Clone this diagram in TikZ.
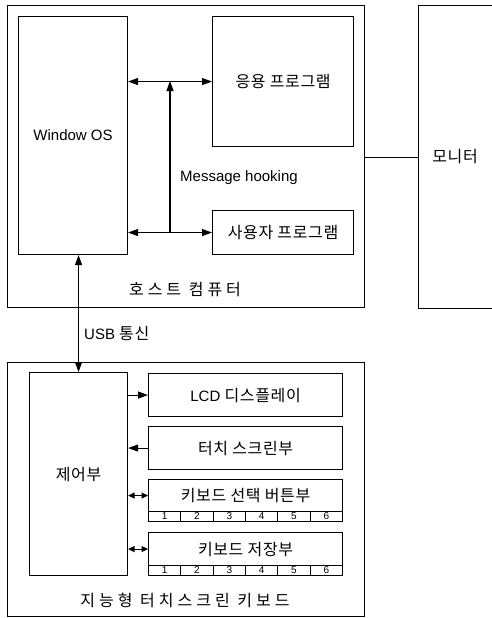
\documentclass[tikz,border=0pt]{standalone}
\usepackage{fontspec}
\setmainfont{Liberation Sans}
\newfontfamily\kr[LetterSpace=4]{Noto Sans CJK KR}
\newfontfamily\krw[LetterSpace=25]{Noto Sans CJK KR}
\usetikzlibrary{arrows.meta}
\tikzset{
  box/.style={draw, line width=1.1pt, inner sep=0pt, anchor=north west},
  cell/.style={draw, line width=0.9pt, inner sep=0pt, anchor=north west, minimum width=32.33pt, minimum height=10pt, font=\fontsize{10}{10}\selectfont},
  arr/.style={line width=1.1pt, -{Triangle[length=10pt,width=7pt]}},
  darr/.style={line width=1.1pt, {Triangle[length=10pt,width=7pt]}-{Triangle[length=10pt,width=7pt]}},
  sdarr/.style={line width=1.1pt, {Triangle[length=6.5pt,width=6pt]}-{Triangle[length=6.5pt,width=6pt]}},
  lbl/.style={font=\fontsize{15}{17}\selectfont, inner sep=0pt},
  kl/.style={font=\fontsize{16}{18}\selectfont\kr, inner sep=0pt},
  big/.style={font=\fontsize{16}{18}\selectfont, inner sep=0pt},
}
\begin{document}
\begin{tikzpicture}[x=1pt,y=-1pt]
\useasboundingbox (0,0) rectangle (492,618);
% host
\node[box, minimum width=357pt, minimum height=302pt] (host) at (7,5) {};
\node[box, minimum width=109pt, minimum height=238pt, lbl] (winos) at (18,16) {Window OS};
\node[box, minimum width=141pt, minimum height=130pt, kl] (app) at (212,16) {응용 프로그램};
\node[box, minimum width=141pt, minimum height=44pt, kl] (user) at (212,210) {사용자 프로그램};
\node[lbl, anchor=west] (hook) at (180,178) {Message hooking};
\node[big] (hostlbl) at (185,290) {\krw 호스트 컴퓨터};
% monitor
\node[box, minimum width=90pt, minimum height=303pt] (monitor) at (418,5) {};
\node[kl] (montxt) at (455,157) {모니터};
\draw[line width=1.1pt] (host.east |- monitor.west) -- (monitor.west);
% host arrows
\draw[darr] (winos.east |- app.west) -- (app.west);
\draw[darr] (winos.east |- user.west) -- (user.west);
\coordinate (hbot) at (170,232);
\coordinate (htop) at (170,81);
\draw[arr] (hbot) -- (htop);
% keyboard
\node[box, minimum width=357pt, minimum height=254pt] (kb) at (7,362) {};
\node[box, minimum width=98pt, minimum height=203pt, kl] (ctrl) at (29,372) {제어부};
\node[box, minimum width=194pt, minimum height=43pt, lbl] (lcd) at (148,373) {LCD {\fontsize{16}{18}\selectfont\kr 디스플레이}};
\node[box, minimum width=194pt, minimum height=43pt, kl] (touch) at (148,426) {터치 스크린부};
\node[box, minimum width=194pt, minimum height=32pt, kl] (sel) at (148,479) {키보드 선택 버튼부};
\foreach \i in {1,...,6} {
  \node[cell] (s\i) at ({148+(\i-1)*32.333},511) {\i};
}
\node[box, minimum width=194pt, minimum height=33pt, kl] (store) at (148,532) {키보드 저장부};
\foreach \i in {1,...,6} {
  \node[cell] (t\i) at ({148+(\i-1)*32.333},565) {\i};
}
\node[big] (kblbl) at (185,600) {\krw 지능형 터치스크린 키보드};
% usb
\draw[darr] (ctrl.north |- winos.south) -- (ctrl.north);
\node[lbl, anchor=west] (usb) at (84,333) {USB {\fontsize{16}{18}\selectfont\kr 통신}};
% ctrl arrows
\draw[arr] (ctrl.east |- lcd.west) -- (lcd.west);
\draw[arr] (touch.west) -- (ctrl.east |- touch.west);
\draw[sdarr] (ctrl.east |- sel.west) -- (sel.west);
\draw[sdarr] (ctrl.east |- store.west) -- (store.west);
\end{tikzpicture}
\end{document}
